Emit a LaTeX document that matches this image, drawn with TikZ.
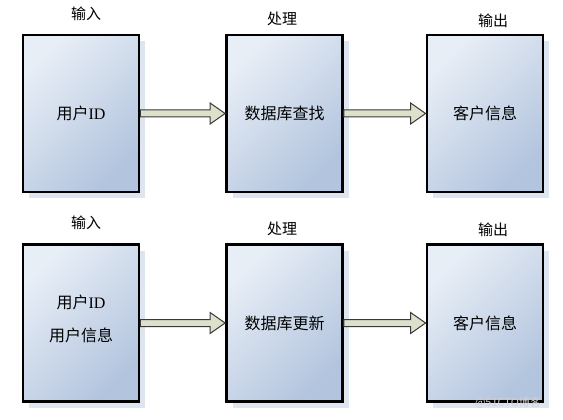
\documentclass[tikz,border=0pt]{standalone}
\usepackage{fontspec}
\setmainfont{Liberation Serif}
\newfontfamily\cjk{Noto Sans CJK SC}
\usetikzlibrary{shadows,calc}
\definecolor{boxlight}{HTML}{E8EEF6}
\definecolor{boxdark}{HTML}{B2C4DE}
\definecolor{shadowblue}{HTML}{DDE5F1}
\definecolor{arrowfill}{HTML}{DDE0CB}
\definecolor{arrowline}{HTML}{3A3A3A}
\tikzset{
  procbox/.style={draw=black, line width=2.8pt, minimum width=116pt, minimum height=157pt,
    inner sep=0pt, left color=boxlight, right color=boxdark, shading angle=45,
    drop shadow={shadow xshift=6pt, shadow yshift=-6pt, fill=shadowblue, opacity=1},
    font=\fontsize{16pt}{19pt}\selectfont, align=center},
  boxtext/.style={font=\fontsize{16pt}{19pt}\selectfont, inner sep=0pt},
  lbl/.style={font=\cjk\fontsize{15pt}{17pt}\selectfont, inner sep=0pt},
  fatarrow/.style={draw=arrowline, fill=arrowfill, line width=1pt, line join=miter},
}
\newcommand{\fatarr}[2]{%
  \path (#1.east) coordinate (s) (#2.west) coordinate (t);
  \draw[fatarrow] ($(s)+(0,3.5)$) -- ($(t)+(-15,3.5)$) -- ($(t)+(-15,10.5)$) -- (t)
    -- ($(t)+(-15,-10.5)$) -- ($(t)+(-15,-3.5)$) -- ($(s)+(0,-3.5)$) -- cycle;
}
\begin{document}
\begin{tikzpicture}[x=1pt,y=-1pt]
\useasboundingbox (0,0) rectangle (563,420);
% top row
\node[procbox] (a1) at (81,113.5) {{\cjk 用户}ID};
\node[procbox] (b1) at (284.5,113.5) {\cjk 数据库查找};
\node[procbox] (c1) at (485,113.5) {\cjk 客户信息};
\node[lbl] (la1) at (86,14) {输入};
\node[lbl] (lb1) at (282,19) {处理};
\node[lbl] (lc1) at (493,21) {输出};
% bottom row
\node[procbox] (a2) at (81,323) {};
\node[boxtext] (a2t1) at ($(a2.center)+(0,-21)$) {{\cjk 用户}ID};
\node[boxtext] (a2t2) at ($(a2.center)+(0,12)$) {\cjk 用户信息};
\node[procbox] (b2) at (284.5,323) {\cjk 数据库更新};
\node[procbox] (c2) at (485,323) {\cjk 客户信息};
\node[lbl] (la2) at (86,223) {输入};
\node[lbl] (lb2) at (282,229) {处理};
\node[lbl] (lc2) at (493,230) {输出};
% arrows
\fatarr{a1}{b1}
\fatarr{b1}{c1}
\fatarr{a2}{b2}
\fatarr{b2}{c2}
% watermark
\node[font=\cjk\fontsize{11pt}{13pt}\selectfont, text=gray!35, inner sep=0pt] (wm) at (508,403) {@51CTO博客};
\end{tikzpicture}
\end{document}
